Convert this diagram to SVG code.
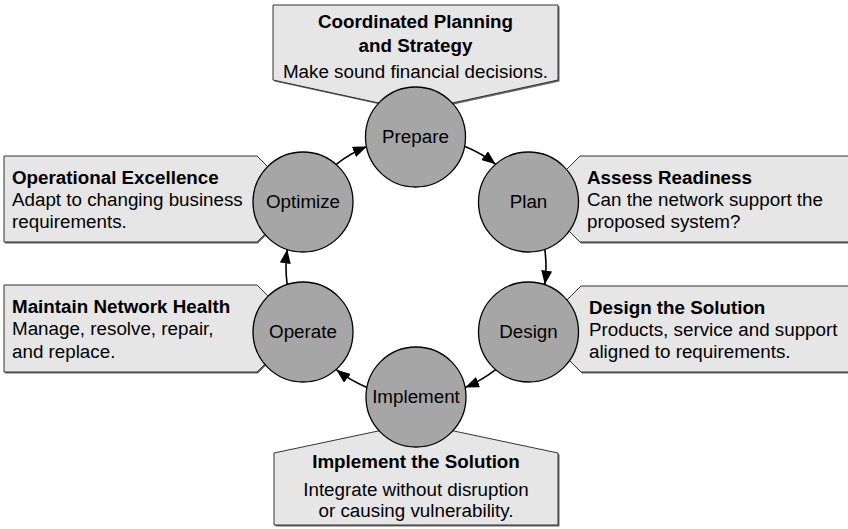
<svg xmlns="http://www.w3.org/2000/svg" width="848" height="529" viewBox="0 0 848 529">
<defs>
<style>
.box{fill:#e6e6e6;stroke:#333;stroke-width:1}
.shadow{fill:#666}
.node{fill:#a6a6a6;stroke:#000;stroke-width:1.3}
.arrow{fill:none;stroke:#000;stroke-width:1.6;marker-end:url(#ah)}
text{font-family:"Liberation Sans",Arial,Helvetica,sans-serif;font-size:18.8px;fill:#000}
.b{font-weight:bold}
.c{text-anchor:middle}
</style>
<marker id="ah" markerUnits="userSpaceOnUse" markerWidth="15" markerHeight="11" refX="14" refY="5.5" orient="auto">
<path d="M0,0 L14,5.5 L0,11 Z" fill="#000"/>
</marker>
</defs>
<rect width="848" height="529" fill="#fff"/>

<g id="box-prepare">
<path class="shadow" d="M274.5,6.5 H559.5 V81.5 L417,112.5 L274.5,81.5 Z"/>
<path class="box" d="M273,5 H558 V80 L415.5,111 L273,80 Z"/>
<text class="b c" x="415.5" y="28">Coordinated Planning</text>
<text class="b c" x="415.5" y="51.5">and Strategy</text>
<text class="c" x="415.5" y="78">Make sound financial decisions.</text>
</g>

<g id="box-optimize">
<path class="shadow" d="M5,157.5 H258 L301,200.5 L258,243.5 H5 Z"/>
<path class="box" d="M4,156 H257 L300,199 L257,242 H4 Z"/>
<text class="b" x="12" y="184">Operational Excellence</text>
<text x="12" y="206">Adapt to changing business</text>
<text x="12" y="228">requirements.</text>
</g>

<g id="box-operate">
<path class="shadow" d="M5,286.5 H258 L302,330 L258,373.5 H5 Z"/>
<path class="box" d="M4,285 H257 L301,328.5 L257,372 H4 Z"/>
<text class="b" x="12" y="313">Maintain Network Health</text>
<text x="12" y="335">Manage, resolve, repair,</text>
<text x="12" y="357.5">and replace.</text>
</g>

<g id="box-plan">
<path class="shadow" d="M852,157.5 H581 L538,200.5 L581,243.5 H852 Z"/>
<path class="box" d="M852,156 H580 L537,199 L580,242 H852 Z"/>
<text class="b" x="587" y="183.5">Assess Readiness</text>
<text x="587" y="205.5">Can the network support the</text>
<text x="587" y="227.5">proposed system?</text>
</g>

<g id="box-design">
<path class="shadow" d="M852,287.5 H582 L539,330.5 L582,373.5 H852 Z"/>
<path class="box" d="M852,286 H581 L538,329 L581,372 H852 Z"/>
<text class="b" x="589" y="313.5">Design the Solution</text>
<text x="589" y="335.5">Products, service and support</text>
<text x="589" y="357.5">aligned to requirements.</text>
</g>

<g id="box-implement">
<path class="shadow" d="M275.5,454.5 L417.5,424.5 L559.5,454.5 V526.5 H275.5 Z"/>
<path class="box" d="M274,453 L416,423 L558,453 V525 H274 Z"/>
<text class="b c" x="416" y="468">Implement the Solution</text>
<text class="c" x="416" y="495.5">Integrate without disruption</text>
<text class="c" x="416" y="517">or causing vulnerability.</text>
</g>

<g id="connectors">
<path class="arrow" d="M465.1,146.6 A130,130 0 0 1 495.7,164.3"/>
<path class="arrow" d="M544.8,249.4 A130,130 0 0 1 544.8,284.6"/>
<path class="arrow" d="M495.7,369.7 A130,130 0 0 1 465.1,387.4"/>
<path class="arrow" d="M366.9,387.4 A130,130 0 0 1 336.3,369.7"/>
<path class="arrow" d="M287.2,284.6 A130,130 0 0 1 287.2,249.4"/>
<path class="arrow" d="M336.3,164.3 A130,130 0 0 1 366.9,146.6"/>
</g>

<g id="node-prepare"><circle class="node" cx="415.5" cy="137" r="50"/><text class="c" x="415.5" y="143.3">Prepare</text></g>
<g id="node-plan"><circle class="node" cx="528.5" cy="202" r="50"/><text class="c" x="528.5" y="208.3">Plan</text></g>
<g id="node-design"><circle class="node" cx="528.5" cy="332" r="50"/><text class="c" x="528.5" y="338.3">Design</text></g>
<g id="node-implement"><circle class="node" cx="416" cy="397" r="50"/><text class="c" x="416" y="403.3">Implement</text></g>
<g id="node-operate"><circle class="node" cx="303" cy="332" r="50"/><text class="c" x="303" y="338.3">Operate</text></g>
<g id="node-optimize"><circle class="node" cx="303" cy="202" r="50"/><text class="c" x="303" y="208.3">Optimize</text></g>
</svg>
